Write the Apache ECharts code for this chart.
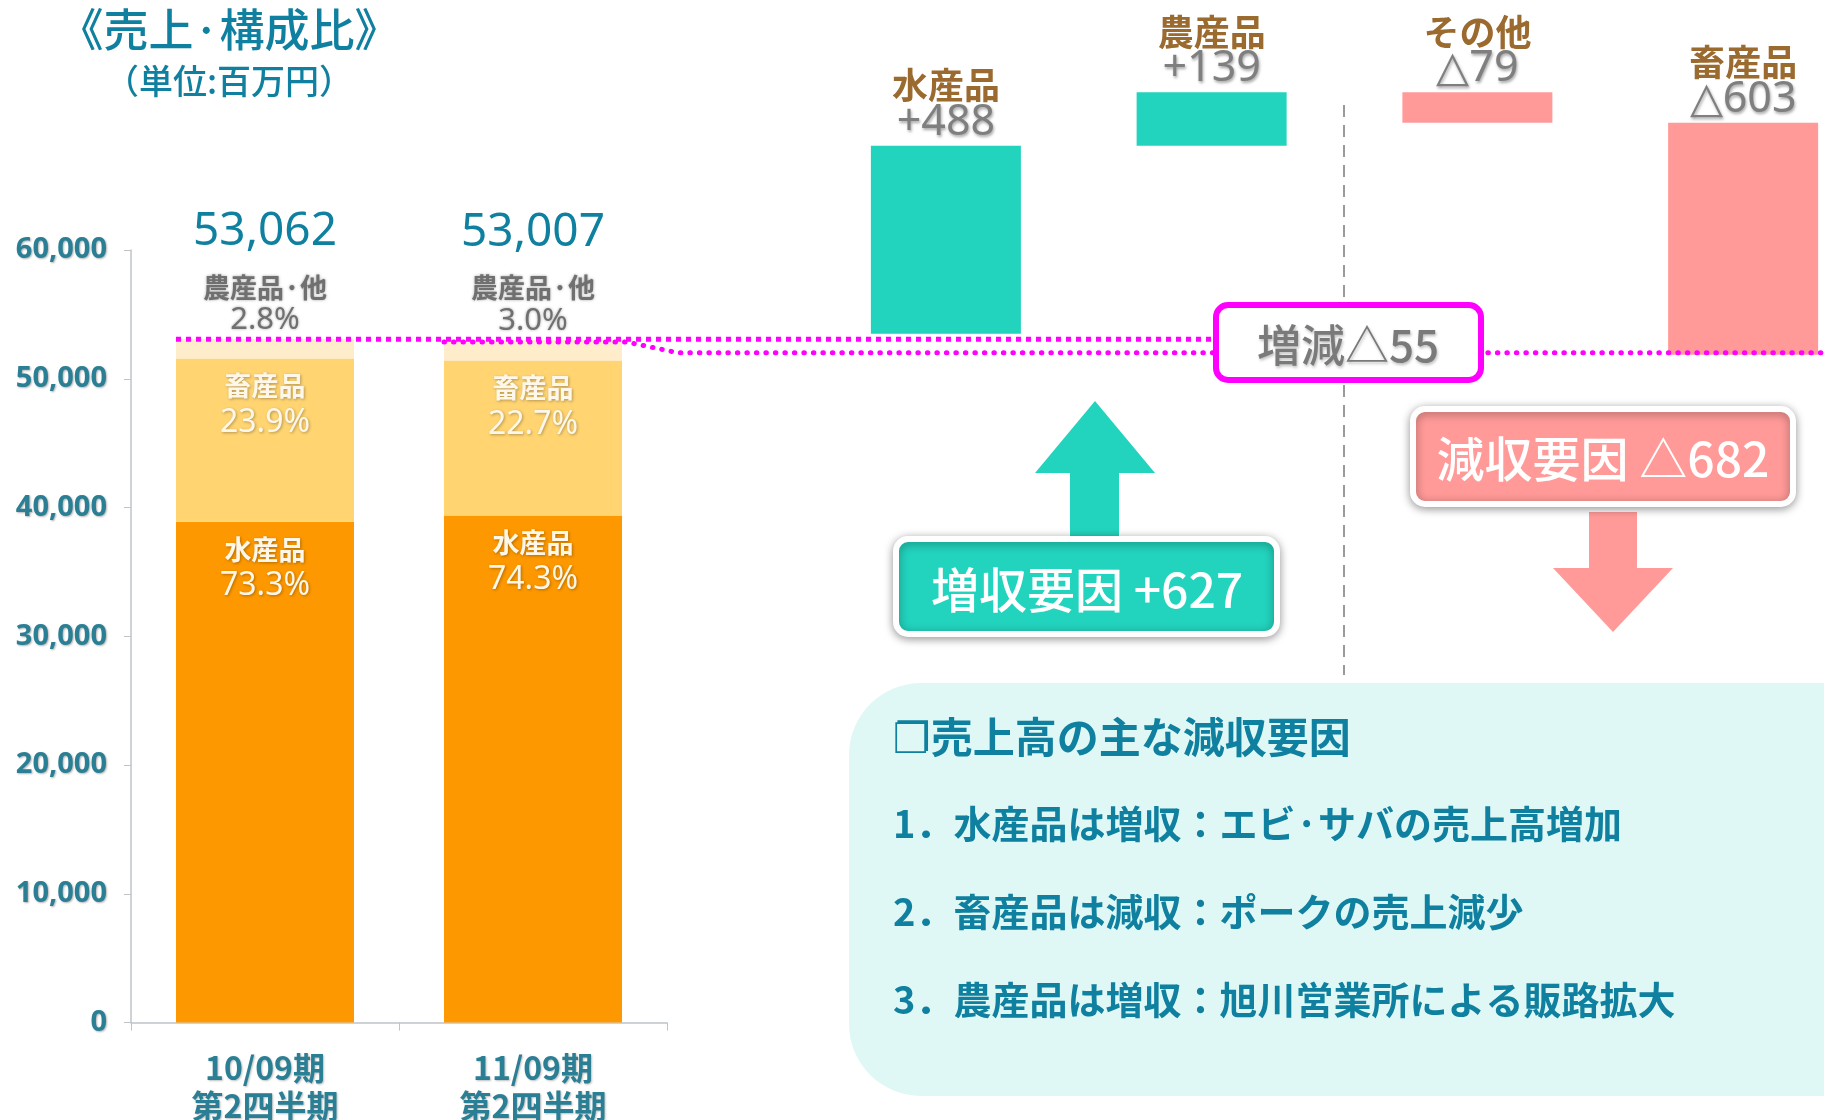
<!DOCTYPE html>
<html><head><meta charset="utf-8">
<script src="https://cdn.jsdelivr.net/npm/echarts@6/dist/echarts.min.js"></script>
<style>html,body{margin:0;padding:0;background:#fff}#c{width:1824px;height:1120px}</style>
</head><body><div id="c"></div>
<script>
// ---- data ----
const periods = ['10/09期\n第2四半期', '11/09期\n第2四半期'];
const totals = [53062, 53007];
const suisan = [38894, 39384];
const chikusan = [12682, 12033];
const nousanOther = [1486, 1590];
const suisanPct = ['73.3%', '74.3%'];
const chikusanPct = ['23.9%', '22.7%'];
const nousanPct = ['2.8%', '3.0%'];
const changeCats = ['水産品', '農産品', 'その他', '畜産品'];
const changeVals = [488, 139, -79, -603];
const changeLabels = ['+488', '+139', '△79', '△603'];
const upLabel = '増収要因 +627';
const downLabel = '減収要因 △682';
const netLabel = '増減△55';
const noteTitle = '❐売上高の主な減収要因';
const notes = ['1．水産品は増収：エビ·サバの売上高増加', '2．畜産品は減収：ポークの売上減少', '3．農産品は増収：旭川営業所による販路拡大'];

// ---- derived waterfall ----
const wfBase = [], wfSize = [];
let cum = totals[0];
changeVals.forEach(v => { wfBase.push(Math.min(cum, cum + v)); wfSize.push(Math.abs(v)); cum += v; });

const JP = "'Noto Sans CJK JP','DejaVu Sans',sans-serif";
const LAT = "'Noto Sans',sans-serif";
const TEAL_TXT = '#0f809f';
const GREEN = '#22d3bd', PINK = '#ff9a98';
const chart = echarts.init(document.getElementById('c'));

const option = {
  backgroundColor: '#fff',
  animation: false,
  grid: [
    { left: 131, top: 250, width: 536, height: 772.6, outerBoundsMode: 'none' },
    { left: 813, top: 88, width: 1063, height: 308, outerBoundsMode: 'none' }
  ],
  xAxis: [
    { type: 'category', gridIndex: 0, data: periods,
      axisLine: { lineStyle: { color: '#bfc4c8', width: 1.5 } },
      axisTick: { show: true, length: 8, lineStyle: { color: '#bfc4c8' } },
      axisLabel: { color: '#2a7f94', fontSize: 32, fontWeight: 'bold', fontFamily: JP, lineHeight: 38, margin: 26,
        textShadowColor: 'rgba(0,0,0,0.25)', textShadowBlur: 2, textShadowOffsetX: 1, textShadowOffsetY: 1 } },
    { type: 'category', gridIndex: 1, data: changeCats, show: false }
  ],
  yAxis: [
    { type: 'value', gridIndex: 0, min: 0, max: 60000, interval: 10000,
      splitLine: { show: false },
      axisLine: { show: true, lineStyle: { color: '#bfc4c8', width: 1.5 } },
      axisTick: { show: true, length: 7, lineStyle: { color: '#bfc4c8' } },
      axisLabel: { color: '#2a7f94', fontSize: 29, fontWeight: 'bold', fontFamily: LAT, margin: 24,
        formatter: v => v.toLocaleString('en-US'),
        textShadowColor: 'rgba(0,0,0,0.3)', textShadowBlur: 2, textShadowOffsetX: 1, textShadowOffsetY: 1 } },
    { type: 'value', gridIndex: 1, min: 52900, max: 53700, show: false }
  ],
  series: [
    { name: '水産品', type: 'bar', stack: 'a', xAxisIndex: 0, yAxisIndex: 0, barWidth: 178, data: suisan,
      itemStyle: { color: '#fd9800' },
      label: { show: true, position: 'insideTop', distance: 10,
        formatter: p => `{n|水産品}\n{p|${suisanPct[p.dataIndex]}}`,
        rich: { n: { fontSize: 27, lineHeight: 35, color: '#fff8ea', fontFamily: JP, fontWeight: 'bold' },
                p: { fontSize: 32, lineHeight: 38, color: '#fff8ea', fontFamily: LAT } },
        textShadowColor: 'rgba(0,0,0,0.3)', textShadowBlur: 3, textShadowOffsetX: 1, textShadowOffsetY: 1 } },
    { name: '畜産品', type: 'bar', stack: 'a', xAxisIndex: 0, yAxisIndex: 0, data: chikusan,
      itemStyle: { color: '#ffd471' },
      label: { show: true, position: 'insideTop', distance: 10,
        formatter: p => `{n|畜産品}\n{p|${chikusanPct[p.dataIndex]}}`,
        rich: { n: { fontSize: 27, lineHeight: 35, color: '#fff8ea', fontFamily: JP, fontWeight: 'bold' },
                p: { fontSize: 32, lineHeight: 38, color: '#fff8ea', fontFamily: LAT } },
        textShadowColor: 'rgba(0,0,0,0.3)', textShadowBlur: 3, textShadowOffsetX: 1, textShadowOffsetY: 1 } },
    { name: '農産品·他', type: 'bar', stack: 'a', xAxisIndex: 0, yAxisIndex: 0, data: nousanOther,
      itemStyle: { color: '#feecca' },
      label: { show: true, position: 'top', distance: 2,
        formatter: p => `{t|${totals[p.dataIndex].toLocaleString('en-US')}}\n{n|農産品·他}\n{p|${nousanPct[p.dataIndex]}}`,
        rich: { t: { fontSize: 46, lineHeight: 78, color: TEAL_TXT, fontFamily: LAT },
                n: { fontSize: 27, lineHeight: 32, color: '#707070', fontFamily: JP, fontWeight: 'bold',
                     textShadowColor: 'rgba(0,0,0,0.35)', textShadowBlur: 3 },
                p: { fontSize: 31, lineHeight: 34, color: '#707070', fontFamily: LAT,
                     textShadowColor: 'rgba(0,0,0,0.35)', textShadowBlur: 3 } } } },
    { name: 'base', type: 'bar', stack: 'w', xAxisIndex: 1, yAxisIndex: 1, barWidth: 150, data: wfBase,
      itemStyle: { color: 'rgba(0,0,0,0)' }, silent: true },
    { name: 'change', type: 'bar', stack: 'w', xAxisIndex: 1, yAxisIndex: 1, barWidth: 150,
      data: wfSize.map((s, i) => ({ value: s, itemStyle: { color: changeVals[i] >= 0 ? GREEN : PINK } })),
      label: { show: true, position: 'top', distance: 4,
        formatter: p => `{n|${changeCats[p.dataIndex]}}\n{v|${changeLabels[p.dataIndex]}}`,
        rich: { n: { fontSize: 36, lineHeight: 36, color: '#9b6a2f', fontFamily: JP, fontWeight: 'bold' },
                v: { fontSize: 43, lineHeight: 38, color: '#7f7f7f', fontFamily: LAT,
                     textShadowColor: 'rgba(0,0,0,0.35)', textShadowBlur: 3, textShadowOffsetX: 1, textShadowOffsetY: 2 } } } }
  ]
};
chart.setOption(option);

// annotation graphics (dotted lines positioned from data via the axes)
const barHalf = 89;
const pA = chart.convertToPixel({ xAxisIndex: 0, yAxisIndex: 0 }, [0, totals[0]]);
const pB = chart.convertToPixel({ xAxisIndex: 0, yAxisIndex: 0 }, [1, totals[1]]);
const pR = chart.convertToPixel({ xAxisIndex: 1, yAxisIndex: 1 }, [0, totals[1]]);
const boxL = 1216;

const txtShadow = { textShadowColor: 'rgba(0,0,0,0.25)', textShadowBlur: 3, textShadowOffsetX: 1, textShadowOffsetY: 2 };
const graphics = [
  { type: 'text', style: { text: '《売上·構成比》', x: 229, y: 30, align: 'center', verticalAlign: 'middle',
      font: `500 45px ${JP}`, fill: TEAL_TXT }, z: 10 },
  { type: 'text', style: { text: '（単位:百万円）', x: 229, y: 81, align: 'center', verticalAlign: 'middle',
      font: `500 34px ${JP}`, fill: TEAL_TXT }, z: 10 },
  // note box
  { type: 'rect', shape: { x: 849, y: 683, width: 1100, height: 413, r: 72 }, style: { fill: '#e0f8f5' }, z: 1 },
  { type: 'text', style: { text: noteTitle, x: 893, y: 742, verticalAlign: 'middle',
      font: `bold 42px 'DejaVu Sans','Noto Sans CJK JP',sans-serif`, fill: TEAL_TXT }, z: 10 },
  ...notes.map((t, i) => ({ type: 'text', style: { text: t, x: 893, y: 824 + i * 88, verticalAlign: 'middle',
      font: `bold 38px ${JP}`, fill: TEAL_TXT }, z: 10 })),
  // vertical dashed divider
  { type: 'line', shape: { x1: 1344, y1: 105, x2: 1344, y2: 675 }, style: { stroke: '#9a9a9a', lineWidth: 2, lineDash: [12, 8] }, z: 2 },
  // dotted lines
  { type: 'line', shape: { x1: pA[0] - barHalf, y1: pA[1], x2: boxL, y2: pA[1] }, style: { stroke: '#ff00ff', lineWidth: 5, lineDash: [5, 5] }, z: 20 },
  { type: 'polyline', shape: { points: [[pB[0] - barHalf, pB[1] + 2], [627, pB[1] + 2], [678, pR[1] - 2], [1824, pR[1] - 2]] },
      style: { stroke: '#ff00ff', lineWidth: 5, lineDash: [0.5, 9], lineCap: 'round', fill: null }, z: 20 },
  // net change box
  { type: 'rect', shape: { x: boxL, y: 305, width: 265, height: 75, r: 12 }, style: { fill: '#fff', stroke: '#ff00ff', lineWidth: 6 }, z: 30 },
  { type: 'text', style: { text: netLabel, x: boxL + 132, y: 345, align: 'center', verticalAlign: 'middle',
      font: `500 44px ${JP}`, fill: '#7a7a7a', ...txtShadow }, z: 31 },
  // up arrow
  { type: 'polygon', shape: { points: [[1095, 401], [1155, 473], [1119, 473], [1119, 540], [1070, 540], [1070, 473], [1035, 473]] },
      style: { fill: GREEN }, z: 20 },
  { type: 'rect', shape: { x: 896, y: 539, width: 381, height: 95, r: 12 },
      style: { fill: GREEN, stroke: '#fff', lineWidth: 6, shadowBlur: 10, shadowColor: 'rgba(0,0,0,0.35)', shadowOffsetY: 2 }, z: 25 },
  { type: 'text', style: { text: upLabel, x: 1087, y: 590, align: 'center', verticalAlign: 'middle',
      font: `500 48px ${JP}`, fill: '#fff' }, z: 26 },
  // down arrow
  { type: 'rect', shape: { x: 1413, y: 409, width: 380, height: 95, r: 12 },
      style: { fill: PINK, stroke: '#fff', lineWidth: 6, shadowBlur: 10, shadowColor: 'rgba(0,0,0,0.35)', shadowOffsetY: 2 }, z: 25 },
  { type: 'text', style: { text: downLabel, x: 1603, y: 459, align: 'center', verticalAlign: 'middle',
      font: `500 48px ${JP}`, fill: '#fff' }, z: 26 },
  { type: 'polygon', shape: { points: [[1589, 512], [1637, 512], [1637, 568], [1673, 568], [1613, 632], [1553, 568], [1589, 568]] },
      style: { fill: PINK }, z: 20 }
];
chart.setOption({ graphic: graphics });
</script>
</body></html>
